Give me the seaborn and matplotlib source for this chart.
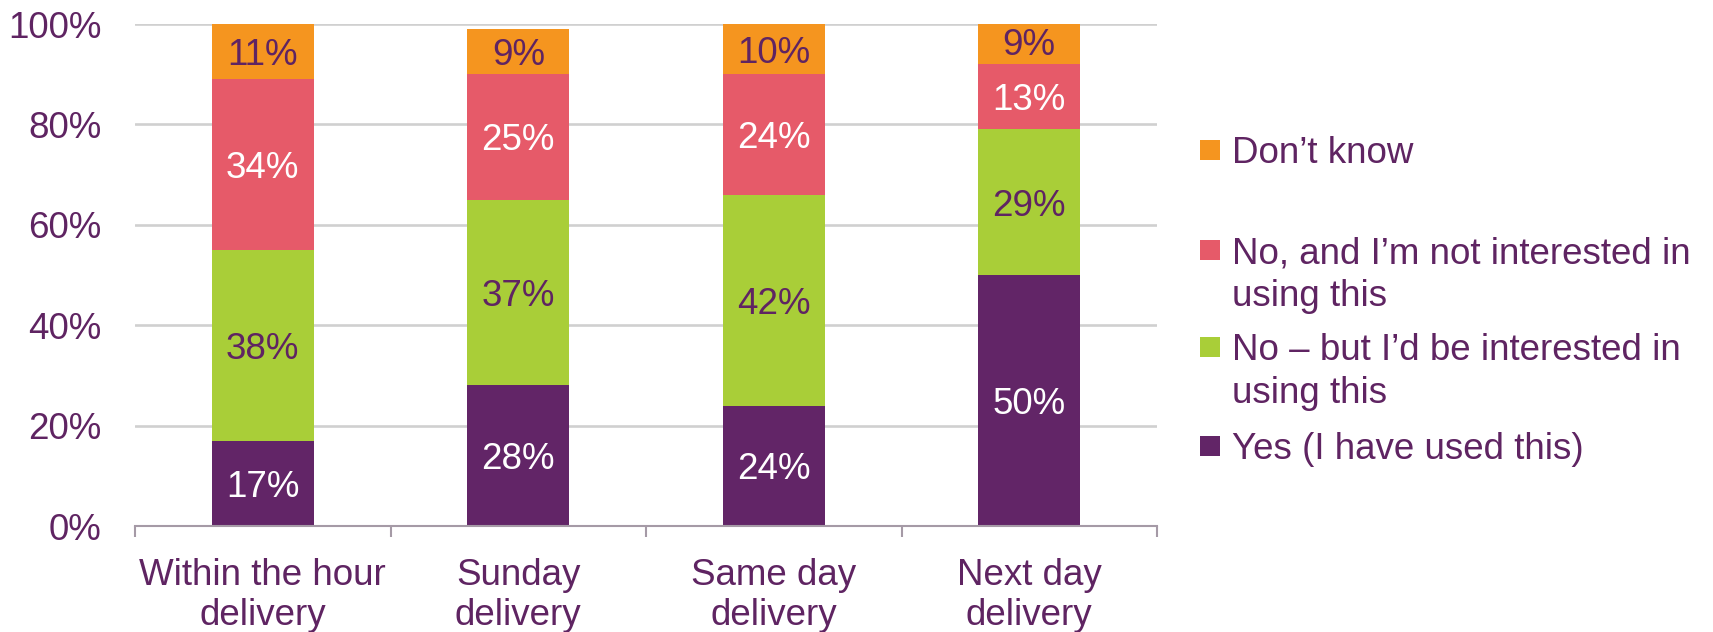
import matplotlib
matplotlib.use("Agg")
import matplotlib.pyplot as plt
from matplotlib.patches import Rectangle
import numpy as np
import seaborn as sns

# Survey answers per delivery option (percent)
categories = ["Within the hour\ndelivery", "Sunday\ndelivery", "Same day\ndelivery", "Next day\ndelivery"]
yes_used = [17, 28, 24, 50]
no_but_interested = [38, 37, 42, 29]
no_not_interested = [34, 25, 24, 13]
dont_know = [11, 9, 10, 9]

series_names = [
    "Yes (I have used this)",
    "No \u2013 but I\u2019d be interested in\nusing this",
    "No, and I\u2019m not interested in\nusing this",
    "Don\u2019t know",
]
series_values = [yes_used, no_but_interested, no_not_interested, dont_know]
series_colors = ["#622567", "#a9ce38", "#e65a69", "#f5951f"]
label_colors = ["white", "#5f2462", "white", "#5f2462"]
y_ticks = [0, 20, 40, 60, 80, 100]

TEXT = "#5f2462"
FS = 26.5

sns.set_theme(style="white")
plt.rcParams["font.family"] = ["Liberation Sans", "DejaVu Sans"]

W, H = 1713, 632
fig = plt.figure(figsize=(W / 100, H / 100), dpi=100)
ax = fig.add_axes([135 / W, 106 / H, (1157 - 135) / W, (526 - 24) / H])

# stacked bars: draw running totals from the top layer down
stack = np.cumsum(np.array(series_values, dtype=float), axis=0)
for k in range(len(series_values) - 1, -1, -1):
    sns.barplot(x=categories, y=stack[k], color=series_colors[k], saturation=1,
                width=0.4, linewidth=0, errorbar=None, ax=ax, zorder=2)

# value labels centred in each segment
for k, vals in enumerate(series_values):
    bottoms = stack[k] - np.array(vals)
    for i, v in enumerate(vals):
        ax.text(i, bottoms[i] + v / 2, f"{v}%", ha="center", va="center_baseline",
                fontsize=FS, color=label_colors[k], zorder=3)

ax.set_xlim(-0.5, len(categories) - 0.5)
ax.set_ylim(0, 100)
ax.set_yticks(y_ticks)
ax.set_yticklabels([f"{t}%" for t in y_ticks])
ax.set_xlabel("")
ax.set_ylabel("")

ax.set_axisbelow(True)
ax.yaxis.grid(True, color="#d0d0d0", linewidth=1.9)
ax.xaxis.grid(False)
for side in ["left", "right", "top"]:
    ax.spines[side].set_visible(False)
ax.spines["bottom"].set_color("#a59aa6")
ax.spines["bottom"].set_linewidth(1.5)
ax.spines["bottom"].set_zorder(4)

ax.tick_params(axis="y", length=0, pad=24, labelsize=FS, labelcolor=TEXT)
ax.tick_params(axis="x", which="major", length=0, pad=23, labelsize=FS, labelcolor=TEXT)
ax.set_xticks(np.arange(-0.5, len(categories)), minor=True)
ax.tick_params(axis="x", which="minor", length=8, width=1.5, color="#a59aa6",
               direction="out", bottom=True)

# legend, top entry first; each text line placed on its own baseline
legend_rows = [(3, 163), (2, 263), (1, 360), (0, 459)]
line_step = 43
for k, base_px in legend_rows:
    fig.patches.append(Rectangle((1200 / W, 1 - (base_px - 3) / H), 20 / W, 20 / H,
                                 transform=fig.transFigure, facecolor=series_colors[k],
                                 edgecolor="none"))
    for j, line in enumerate(series_names[k].split("\n")):
        fig.text(1232 / W, 1 - (base_px + j * line_step) / H, line, ha="left",
                 va="baseline", fontsize=FS, color=TEXT)

fig.savefig("out.png", dpi=100, facecolor="white")
